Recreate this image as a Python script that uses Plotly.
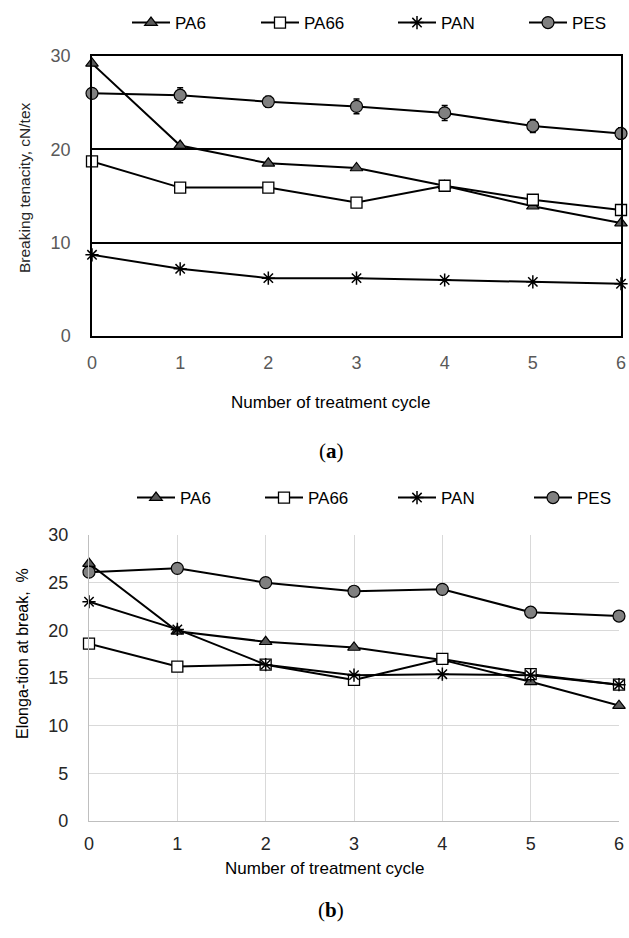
import plotly.graph_objects as go

cycles = [0, 1, 2, 3, 4, 5, 6]
series_names = ["PA6", "PA66", "PAN", "PES"]

# (a) Breaking tenacity, cN/tex
ten_pa6 = [29.2, 20.4, 18.5, 18.0, 16.1, 13.9, 12.1]
ten_pa66 = [18.7, 15.9, 15.9, 14.3, 16.1, 14.6, 13.5]
ten_pan = [8.7, 7.2, 6.2, 6.2, 6.0, 5.8, 5.6]
ten_pes = [26.0, 25.8, 25.1, 24.6, 23.9, 22.5, 21.7]
ten_pes_err = [0.3, 0.8, 0.6, 0.8, 0.8, 0.7, 0.6]

# (b) Elongation at break, %
elo_pa6 = [27.0, 19.9, 18.8, 18.2, 16.9, 14.6, 12.1]
elo_pa66 = [18.6, 16.2, 16.4, 14.8, 17.0, 15.4, 14.3]
elo_pan = [23.0, 20.1, 16.4, 15.3, 15.4, 15.3, 14.3]
elo_pes = [26.1, 26.5, 25.0, 24.1, 24.3, 21.9, 21.5]

W, H = 629, 938
FONT = "Arial, Liberation Sans, sans-serif"

def px_x(p):
    return p / W

def px_y(p):
    return 1 - p / H

markers = {
    "PA6": dict(symbol="triangle-up", size=11, color="#595959", line=dict(color="black", width=1.2)),
    "PA66": dict(symbol="square", size=11, color="white", line=dict(color="black", width=1.3)),
    "PAN": dict(symbol="asterisk-open", size=11, color="black", line=dict(color="black", width=1.5)),
    "PES": dict(symbol="circle", size=12, color="#808080", line=dict(color="black", width=1.2)),
}

top_data = {"PA6": ten_pa6, "PA66": ten_pa66, "PAN": ten_pan, "PES": ten_pes}
bot_data = {"PA6": elo_pa6, "PA66": elo_pa66, "PAN": elo_pan, "PES": elo_pes}

# legend entry positions (left of legend line, pixels) and row centre
top_leg_x = [133, 262, 399, 530]
bot_leg_x = [138, 266, 399, 535]
top_leg_y = 23
bot_leg_y = 498

fig = go.Figure()
legends = {}
k = 1
for name, lx in zip(series_names, top_leg_x):
    kw = {}
    if name == "PES":
        kw["error_y"] = dict(type="data", array=ten_pes_err, visible=True,
                             color="black", thickness=1.5, width=3)
    lname = "legend" if k == 1 else f"legend{k}"
    fig.add_trace(go.Scatter(
        x=cycles, y=top_data[name], name=name, mode="lines+markers",
        line=dict(color="black", width=2), marker=markers[name],
        xaxis="x", yaxis="y", legend=lname, cliponaxis=False, showlegend=True, **kw))
    legends[lname] = (lx, top_leg_y)
    k += 1

for name, lx in zip(series_names, bot_leg_x):
    lname = f"legend{k}"
    fig.add_trace(go.Scatter(
        x=cycles, y=bot_data[name], name=name, mode="lines+markers",
        line=dict(color="black", width=2), marker=markers[name],
        xaxis="x2", yaxis="y2", legend=lname, cliponaxis=False, showlegend=True))
    legends[lname] = (lx, bot_leg_y)
    k += 1

tickfont_top = dict(family=FONT, size=18, color="#595959")
tickfont_bot = dict(family=FONT, size=18, color="#262626")

fig.update_layout(
    width=W, height=H,
    showlegend=True,
    margin=dict(l=0, r=0, t=0, b=0, autoexpand=False),
    paper_bgcolor="white", plot_bgcolor="white",
    font=dict(family=FONT),
    xaxis=dict(domain=[px_x(92), px_x(621)], range=[0, 6], anchor="y",
               tickvals=cycles, showgrid=False, zeroline=False,
               showline=True, linecolor="black", linewidth=1.5, mirror=True,
               ticks="", tickfont=tickfont_top, ticklabelstandoff=10),
    yaxis=dict(domain=[px_y(336), px_y(56)], range=[0, 30], anchor="x",
               tickvals=[0, 10, 20, 30], showgrid=True, gridcolor="black", gridwidth=1.5,
               zeroline=False, showline=True, linecolor="black", linewidth=1.5, mirror=True,
               ticks="", tickfont=tickfont_top, ticklabelstandoff=16),
    xaxis2=dict(domain=[px_x(89), px_x(619)], range=[0, 6], anchor="y2",
                tickvals=cycles, showgrid=True, gridcolor="#d9d9d9", gridwidth=1,
                zeroline=False, showline=True, linecolor="#bfbfbf", linewidth=1.2,
                ticks="", tickfont=tickfont_bot, ticklabelstandoff=6),
    yaxis2=dict(domain=[px_y(821), px_y(535)], range=[0, 30], anchor="x2",
                tickvals=[0, 5, 10, 15, 20, 25, 30], showgrid=True, gridcolor="#d9d9d9",
                gridwidth=1, zeroline=False, showline=True, linecolor="#bfbfbf", linewidth=1.2,
                ticks="", tickfont=tickfont_bot, ticklabelstandoff=16),
)

leg_layout = {}
for lname, (lx, ly) in legends.items():
    leg_layout[lname] = dict(
        visible=True,
        orientation="h", x=px_x(lx - 6), y=px_y(ly), xanchor="left", yanchor="middle",
        font=dict(family=FONT, size=17, color="black"), bgcolor="rgba(0,0,0,0)",
        itemwidth=38, borderwidth=0)
fig.update_layout(**leg_layout)

annotations = [
    dict(text="Breaking tenacity, cN/tex", x=px_x(25), y=px_y(188), textangle=-90,
         font=dict(family=FONT, size=15.5, color="#262626")),
    dict(text="Number of treatment cycle", x=px_x(330), y=px_y(402),
         font=dict(family=FONT, size=17, color="black")),
    dict(text="(<b>a</b>)", x=px_x(331), y=px_y(451),
         font=dict(family="Liberation Serif, DejaVu Serif, serif", size=21, color="black")),
    dict(text="Elonga-tion at break,  %", x=px_x(22), y=px_y(654), textangle=-90,
         font=dict(family=FONT, size=16, color="black")),
    dict(text="Number of treatment cycle", x=px_x(324), y=px_y(868),
         font=dict(family=FONT, size=17, color="black")),
    dict(text="(<b>b</b>)", x=px_x(331), y=px_y(910),
         font=dict(family="Liberation Serif, DejaVu Serif, serif", size=21, color="black")),
]
for a in annotations:
    a.update(xref="paper", yref="paper", showarrow=False, xanchor="center", yanchor="middle")
fig.update_layout(annotations=annotations)

fig.write_html(
    "out.html",
    config={"displayModeBar": False},
    post_script="document.body.style.margin='0';document.body.style.overflow='hidden';",
)
